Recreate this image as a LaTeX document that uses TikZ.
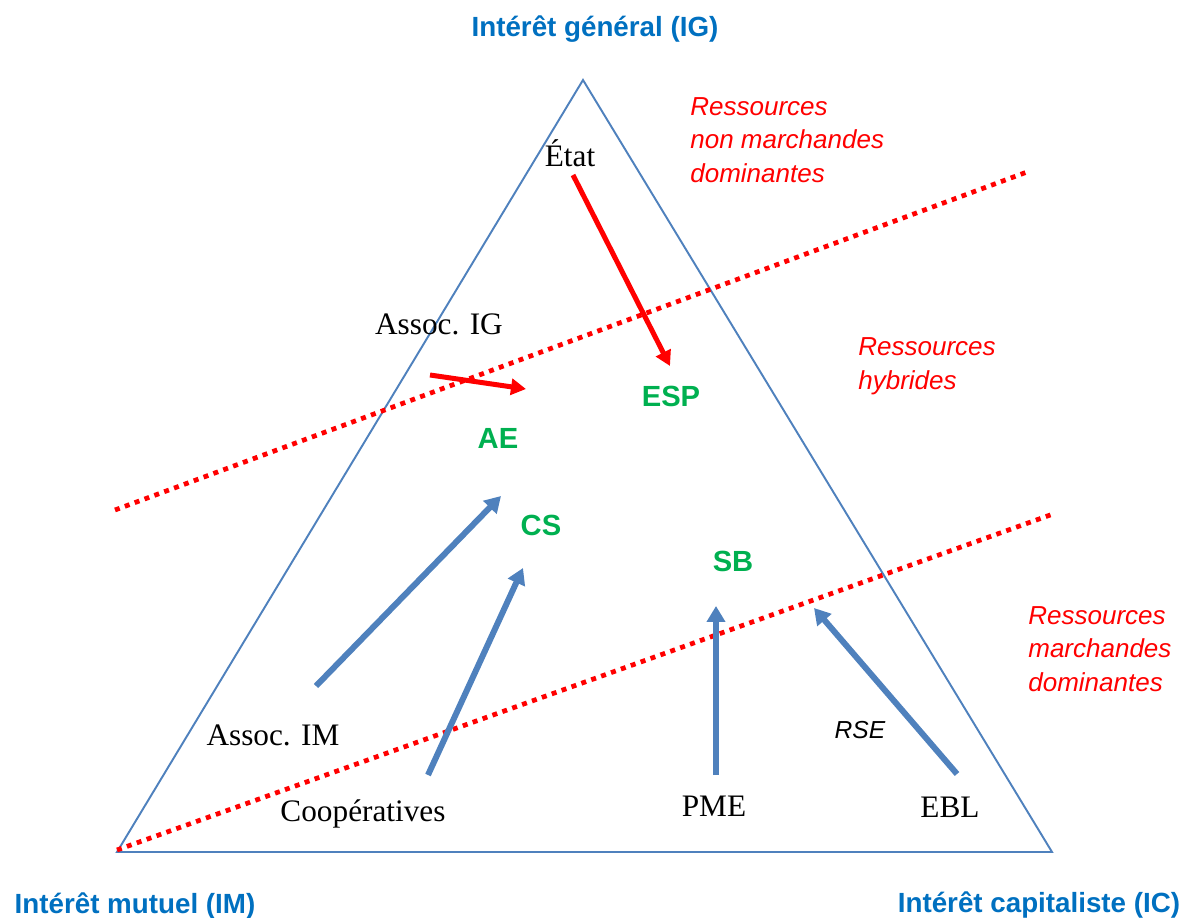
\documentclass[tikz,border=0pt]{standalone}
\usepackage{fontspec}
\setmainfont{Liberation Serif}
\setsansfont{Liberation Sans}
\usetikzlibrary{arrows.meta}
\definecolor{poleblue}{HTML}{0070C0}
\definecolor{triblue}{HTML}{4F81BD}
\definecolor{hybgreen}{HTML}{00B050}

\begin{document}
\begin{tikzpicture}[x=0.02cm, y=-0.02cm,
   pole/.style={font=\sffamily\bfseries\fontsize{15.8}{19}\selectfont, text=poleblue, anchor=base},
   actor/.style={font=\fontsize{17.8}{21}\selectfont, anchor=base, inner sep=0pt},
   hybrid/.style={font=\sffamily\bfseries\fontsize{16.6}{19}\selectfont, text=hybgreen, anchor=base, inner sep=0pt},
   zone/.style={font=\sffamily\itshape\fontsize{14.8}{19.1}\selectfont, text=red, align=left, anchor=west, inner sep=0pt},
   side/.style={draw=triblue, line width=1.1pt, line join=miter},
   bluearrow/.style={draw=triblue, line width=1.2mm, -{Triangle[length=3.2mm,width=3.6mm]}},
   redarrow/.style={draw=red, line width=1mm, -{Triangle[length=3mm,width=3.2mm]}},
   frontier/.style={draw=red, line width=0.95mm, dash pattern=on 1mm off 1.1mm}]

\useasboundingbox (0,0) rectangle (1190,918);

% triangle
\coordinate (top) at (583,80);
\coordinate (left) at (117,852);
\coordinate (right) at (1052,852);
\draw[side] (top) -- (right) -- (left) -- cycle;

% poles
\node[pole] (ig) at (595,37) {Intérêt général (IG)};
\node[pole] (im) at (135,913) {Intérêt mutuel (IM)};
\node[pole] (ic) at (1039,912) {Intérêt capitaliste (IC)};

% resource frontiers
\coordinate (f1a) at (115,510);
\coordinate (f1b) at (1027,172);
\coordinate (f2a) at (117,850);
\coordinate (f2b) at (1053,514);
\draw[frontier] (f1a) -- (f1b);
\draw[frontier] (f2a) -- (f2b);

\node[zone] (nonmarch) at (690,140) {Ressources\\non marchandes\\dominantes};
\node[zone] (hyb) at (858,366) {Ressources\\hybrides};
\node[zone] (march) at (1028,649) {Ressources\\marchandes\\dominantes};

% hybrid organisations
\node[hybrid] (esp) at (671,407) {ESP};
\node[hybrid] (ae) at (498,449) {AE};
\node[hybrid] (cs) at (541,536) {CS};
\node[hybrid] (sb) at (733,571) {SB};

% actors
\node[actor] (etat) at (570,167) {État};
\node[actor] (associg) at (439,335) {Assoc. IG};
\node[actor] (associm) at (273,745) {Assoc. IM};
\node[actor] (coop) at (363,821) {Coopératives};
\node[actor] (pme) at (714,816) {PME};
\node[actor] (ebl) at (950,817) {EBL};
\node[font=\sffamily\itshape\fontsize{14}{17}\selectfont, anchor=base] (rse) at (860,738) {RSE};

% trajectories
\coordinate (etat-out) at (573,175);
\coordinate (esp-in) at (670,366);
\coordinate (associg-out) at (430,375);
\coordinate (ae-in1) at (526,389);
\coordinate (associm-out) at (316,686);
\coordinate (ae-in2) at (501,496);
\coordinate (coop-out) at (428,775);
\coordinate (cs-in) at (523,568);
\coordinate (pme-out) at (716,775);
\coordinate (sb-in1) at (716,606);
\coordinate (ebl-out) at (957,774);
\coordinate (sb-in2) at (814,608);

\draw[redarrow] (etat-out) -- (esp-in);
\draw[redarrow] (associg-out) -- (ae-in1);
\draw[bluearrow] (associm-out) -- (ae-in2);
\draw[bluearrow] (coop-out) -- (cs-in);
\draw[bluearrow] (pme-out) -- (sb-in1);
\draw[bluearrow] (ebl-out) -- (sb-in2);

\end{tikzpicture}
\end{document}
